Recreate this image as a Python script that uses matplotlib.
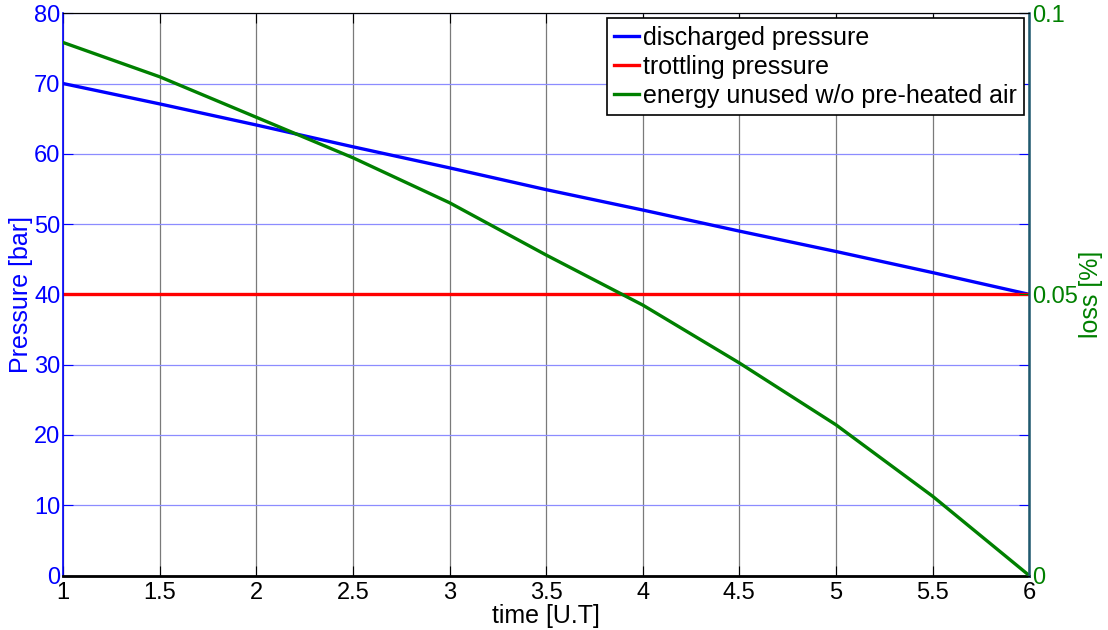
import matplotlib
matplotlib.use("Agg")
import matplotlib.pyplot as plt

plt.rcParams["font.family"] = ["Liberation Sans", "DejaVu Sans"]

# --- data ---
time = [1, 1.5, 2, 2.5, 3, 3.5, 4, 4.5, 5, 5.5, 6]
discharged = [70, 67.1, 64.1, 61.0, 58.0, 54.9, 52.0, 49.0, 46.1, 43.1, 40]
trottling = [40, 40, 40, 40, 40, 40, 40, 40, 40, 40, 40]
loss = [0.0948, 0.0887, 0.0815, 0.0743, 0.0663, 0.0570, 0.0481, 0.0378,
        0.0268, 0.0141, 0.0]

xticks = [1, 1.5, 2, 2.5, 3, 3.5, 4, 4.5, 5, 5.5, 6]
xticklabels = ["1", "1.5", "2", "2.5", "3", "3.5", "4", "4.5", "5", "5.5", "6"]
left_ticks = [0, 10, 20, 30, 40, 50, 60, 70, 80]
right_ticks = [0, 0.05, 0.1]
right_ticklabels = ["0", "0.05", "0.1"]

BLUE = "#0000ff"
RED = "#ff0000"
GREEN = "#008000"
TICK_FS = 17
LABEL_FS = 18

fig = plt.figure(figsize=(11.08, 6.30), dpi=100)
ax = fig.add_axes([0.0569, 0.0865, 0.8720, 0.8925])
ax2 = ax.twinx()

l1, = ax.plot(time, discharged, color=BLUE, lw=2.4, label="discharged pressure")
l2, = ax.plot(time, trottling, color=RED, lw=2.4, label="trottling pressure")
l3, = ax2.plot(time, loss, color=GREEN, lw=2.4,
               label="energy unused w/o pre-heated air")

ax.set_xlim(1, 6)
ax.set_ylim(0, 80)
ax2.set_ylim(0, 0.1)

ax.set_xticks(xticks)
ax.set_xticklabels(xticklabels)
ax.set_yticks(left_ticks)
ax2.set_yticks(right_ticks)
ax2.set_yticklabels(right_ticklabels)

# grid: grey verticals, light blue horizontals
ax.xaxis.grid(True, color="#7a7a7a", lw=0.9)
ax.yaxis.grid(True, color="#8c8cff", lw=0.9)
ax.set_axisbelow(True)

ax.tick_params(axis="x", direction="in", length=7, labelsize=TICK_FS, pad=5,
               colors="black", top=True)
ax.tick_params(axis="y", direction="in", length=7, labelsize=TICK_FS, pad=2,
               colors=BLUE, right=True)
ax2.tick_params(axis="y", direction="in", length=7, labelsize=TICK_FS, pad=2,
                colors=GREEN)

ax.spines["left"].set_color(BLUE)
ax.spines["left"].set_linewidth(1.2)
ax.spines["bottom"].set_linewidth(2.0)
ax.spines["top"].set_color("black")
ax2.spines["right"].set_color("#1f5a70")
ax2.spines["right"].set_linewidth(1.8)
ax2.spines["left"].set_visible(False)

ax.set_xlabel("time [U.T]", fontsize=LABEL_FS, labelpad=0)
ax.set_ylabel("Pressure [bar]", fontsize=LABEL_FS, color=BLUE, labelpad=1)
ax2.set_ylabel("loss [%]", fontsize=LABEL_FS, color=GREEN, labelpad=1)

leg = ax2.legend(handles=[l1, l2, l3], loc="upper right", fontsize=LABEL_FS,
                 frameon=True, fancybox=False, edgecolor="black",
                 framealpha=1, handlelength=1.0, handletextpad=0.15,
                 borderpad=0.3, labelspacing=0.2, borderaxespad=0.2)
leg.get_frame().set_linewidth(1.2)

fig.savefig("out.png", dpi=100)
